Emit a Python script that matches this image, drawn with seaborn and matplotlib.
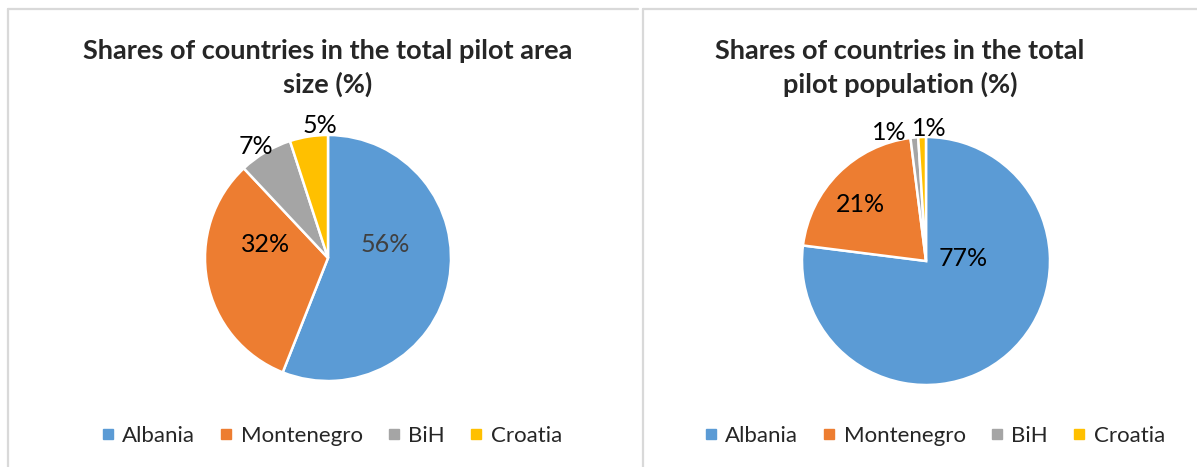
import numpy as np
import seaborn as sns
import matplotlib.pyplot as plt
from matplotlib.lines import Line2D

countries = ['Albania', 'Montenegro', 'BiH', 'Croatia']
area_share = [56, 32, 7, 5]
population_share = [77, 21, 1, 1]
titles = ['Shares of countries in the total pilot area\nsize (%)',
          'Shares of countries in the total\npilot population (%)']

colors = ['#5B9BD5', '#ED7D31', '#A5A5A5', '#FFC000']

W, H = 1197, 467

# label placement per slice: (radius factor, angle shift in degrees ccw)
label_place = [
    [(0.48, 24), (0.52, -23), (1.08, 2), (1.08, -5.6)],
    [(0.30, 53), (0.70, 4), (1.08, 10.6), (1.07, -3.1)],
]
label_colors = [['#404040', 'black', 'black', 'black'],
                ['black', 'black', 'black', 'black']]

# pie centre / radius in pixels, title centre x, legend centre x, panel frame
panels = [
    dict(cx=328, cy=258, r=123, tx=328, lx=331, box=(8, 638)),
    dict(cx=926, cy=261, r=124, tx=900, lx=934, box=(643, 1197)),
]

sns.set_theme(style='white')
plt.rcParams['font.family'] = ['Lato', 'DejaVu Sans']
palette = sns.color_palette(colors)

fig = plt.figure(figsize=(W / 100, H / 100), dpi=100)
fig.patch.set_facecolor('white')

for i, (values, p) in enumerate(zip([area_share, population_share], panels)):
    # panel frame: only left and top edges are visible in the crop
    x0, x1 = p['box']
    frame = dict(color='#D9D9D9', linewidth=1.6, transform=fig.transFigure)
    fig.add_artist(Line2D([x0 / W, x0 / W], [0, 1 - 9 / H], **frame))
    fig.add_artist(Line2D([x0 / W, x1 / W], [1 - 9 / H, 1 - 9 / H], **frame))

    half = 160
    ax = fig.add_axes([(p['cx'] - half) / W, (H - p['cy'] - half) / H,
                       2 * half / W, 2 * half / H])
    wedges, _, autotexts = ax.pie(values, colors=palette, startangle=90,
                                  counterclock=False, autopct='%1.0f%%',
                                  wedgeprops=dict(edgecolor='white', linewidth=1.8),
                                  textprops=dict(fontsize=18))
    lim = half / p['r']
    ax.set_xlim(-lim, lim)
    ax.set_ylim(-lim, lim)
    ax.set_aspect('equal')
    ax.axis('off')

    for w, t, (d, shift), c in zip(wedges, autotexts, label_place[i], label_colors[i]):
        ang = np.deg2rad((w.theta1 + w.theta2) / 2 + shift)
        t.set_position((d * np.cos(ang), d * np.sin(ang)))
        t.set_color(c)
        t.set_ha('center')
        t.set_va('center')

    fig.text(p['tx'] / W, 1 - 68 / H, titles[i], ha='center', va='center',
             fontsize=19.5, fontweight='bold', color='#262626', linespacing=1.4)

    handles = [Line2D([], [], marker='s', linestyle='none', markersize=7,
                      markerfacecolor=c, markeredgecolor=c) for c in palette]
    fig.legend(handles, countries, loc='center', ncol=4,
               bbox_to_anchor=(p['lx'] / W, 1 - 436 / H), frameon=False,
               fontsize=16, handletextpad=0.3, columnspacing=1.05,
               handlelength=0.7, labelcolor='#262626')

fig.savefig('out.png', dpi=100, facecolor='white')
